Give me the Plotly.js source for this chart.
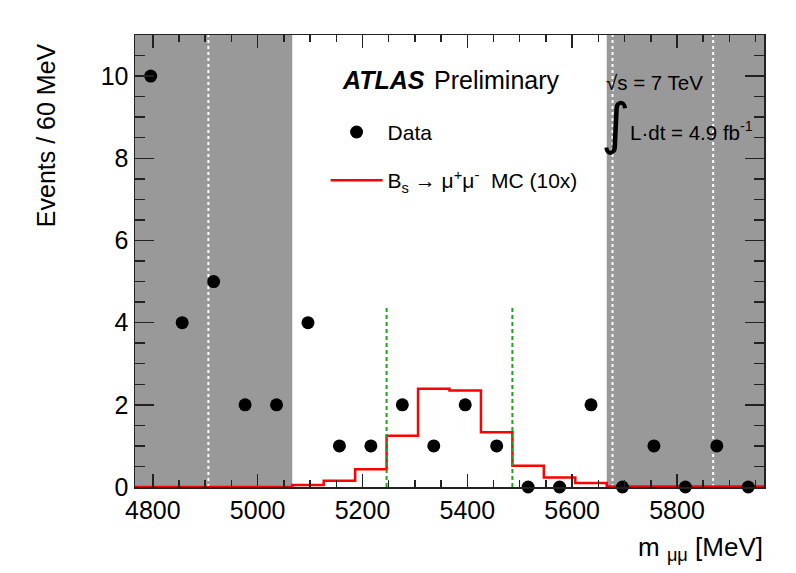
<!DOCTYPE html>
<html>
<head>
<meta charset="utf-8">
<script src="https://cdn.plot.ly/plotly-3.0.1.min.js"></script>
<style>
  html, body { margin: 0; padding: 0; background: #ffffff; }
  #chart { width: 796px; height: 573px; }
</style>
</head>
<body>
<div id="chart"></div>
<script>
// ---- data ----
// data points: bin centres (MeV) and event counts (60 MeV bins)
const massBins   = [4796, 4856, 4916, 4976, 5036, 5096, 5156, 5216, 5276, 5336,
                    5396, 5456, 5516, 5576, 5636, 5696, 5756, 5816, 5876, 5936];
const dataCounts = [10, 4, 5, 2, 2, 4, 1, 1, 2, 1,
                    2, 1, 0, 0, 2, 0, 1, 0, 1, 0];
// MC histogram (x10): bin edges and contents
const mcEdges  = [4766, 4826, 4886, 4946, 5006, 5066, 5126, 5186, 5246, 5306, 5366,
                  5426, 5486, 5546, 5606, 5666, 5726, 5786, 5846, 5906, 5966];
const mcValues = [0, 0, 0, 0, 0, 0.05, 0.15, 0.43, 1.25, 2.39,
                  2.35, 1.33, 0.52, 0.23, 0.10, 0.01, 0.01, 0.01, 0.01, 0.01];
// sideband regions, sub-divisions and signal window
const sidebands     = [[4766, 5066], [5666, 5966]];
const sidebandLines = [4906, 5677, 5869];
const signalWindow  = [5246, 5486];
const signalLineTop = 4.4;
// axis ranges
const xRange = [4766, 5966];
const yRange = [0, 11];

const FONT = 'Liberation Sans, Arial, Helvetica, sans-serif';

// histogram step needs the last value repeated for the final edge
const mcStepY = mcValues.concat([mcValues[mcValues.length - 1]]);

const traces = [
  {
    type: 'scatter', mode: 'lines',
    x: mcEdges, y: mcStepY,
    line: { shape: 'hv', color: '#ff0000', width: 2.5 },
    name: 'B<sub>s</sub> → μ<sup>+</sup>μ<sup>-</sup>  MC (10x)',
    legendgroup: 'mc', legendrank: 2,
    hoverinfo: 'skip'
  },
  {
    type: 'scatter', mode: 'markers',
    x: massBins, y: dataCounts,
    marker: { color: '#000000', size: 13 },
    cliponaxis: false,
    name: 'Data',
    legendgroup: 'data', legendrank: 1
  }
];

const shapes = [];
sidebands.forEach(function (b) {
  shapes.push({ type: 'rect', xref: 'x', yref: 'paper', x0: b[0], x1: b[1], y0: 0, y1: 1,
                fillcolor: '#999999', line: { width: 0 }, layer: 'below' });
});
sidebandLines.forEach(function (x) {
  shapes.push({ type: 'line', xref: 'x', yref: 'paper', x0: x, x1: x, y0: 0, y1: 1,
                line: { color: '#ffffff', width: 2, dash: 'dot' }, layer: 'below' });
});
signalWindow.forEach(function (x) {
  shapes.push({ type: 'line', xref: 'x', yref: 'y', x0: x, x1: x, y0: 0, y1: signalLineTop,
                line: { color: '#22a022', width: 2, dash: '4px,3px' }, layer: 'above' });
});

const annotations = [
  { text: '<b><i>ATLAS</i></b>', xref: 'paper', yref: 'paper', x: 0.3255, y: 0.900,
    xanchor: 'left', yanchor: 'middle', showarrow: false, font: { family: FONT, size: 25, color: '#000' } },
  { text: 'Preliminary', xref: 'paper', yref: 'paper', x: 0.4715, y: 0.900,
    xanchor: 'left', yanchor: 'middle', showarrow: false, font: { family: FONT, size: 25, color: '#000' } },
  { text: '√s = 7 TeV', xref: 'paper', yref: 'paper', x: 0.746, y: 0.896,
    xanchor: 'left', yanchor: 'middle', showarrow: false, font: { family: FONT, size: 20.5, color: '#000' } },
  { text: '∫', xref: 'paper', yref: 'paper', x: 0.764, y: 0.805,
    xanchor: 'center', yanchor: 'middle', showarrow: false, font: { family: 'DejaVu Sans, sans-serif', size: 56, color: '#000' } },
  { text: 'L·dt = 4.9 fb<sup>-1</sup>', xref: 'paper', yref: 'paper', x: 0.784, y: 0.788,
    xanchor: 'left', yanchor: 'middle', showarrow: false, font: { family: FONT, size: 20.5, color: '#000' } },
  { text: 'Events / 60 MeV', xref: 'paper', yref: 'paper', x: -0.141, y: 0.987, textangle: -90,
    xanchor: 'center', yanchor: 'top', showarrow: false, font: { family: FONT, size: 25, color: '#000' } },
  { text: 'm <sub>μμ</sub> [MeV]', xref: 'paper', yref: 'paper', x: 1.0016, y: -0.135,
    xanchor: 'right', yanchor: 'middle', showarrow: false, font: { family: FONT, size: 26, color: '#000' } }
];

const axisCommon = {
  showgrid: false, zeroline: false, showline: true, linecolor: '#222222', linewidth: 1.5,
  mirror: 'allticks', ticks: 'inside', tickcolor: '#222222', tickwidth: 1.5,
  tickfont: { family: FONT, size: 25, color: '#000' }
};

const layout = {
  width: 796, height: 573,
  margin: { l: 135, r: 32, t: 35, b: 86 },
  paper_bgcolor: '#ffffff', plot_bgcolor: '#ffffff',
  font: { family: FONT, color: '#000' },
  xaxis: Object.assign({}, axisCommon, {
    range: xRange, tick0: 4800, dtick: 200, ticklen: 13,
    minor: { dtick: 50, tick0: 4800, ticklen: 7, ticks: 'inside', tickcolor: '#222222', tickwidth: 1.5 }
  }),
  yaxis: Object.assign({}, axisCommon, {
    range: yRange, tick0: 0, dtick: 2, ticklen: 19,
    minor: { dtick: 0.5, tick0: 0, ticklen: 10, ticks: 'inside', tickcolor: '#222222', tickwidth: 1.5 }
  }),
  showlegend: true,
  legend: {
    x: 0.303, y: 0.83, xanchor: 'left', yanchor: 'top',
    bgcolor: 'rgba(0,0,0,0)', borderwidth: 0,
    font: { family: FONT, size: 21, color: '#000' },
    traceorder: 'grouped', tracegroupgap: 18, itemwidth: 52
  },
  shapes: shapes,
  annotations: annotations
};

Plotly.newPlot('chart', traces, layout, { displayModeBar: false, staticPlot: true });
</script>
</body>
</html>
